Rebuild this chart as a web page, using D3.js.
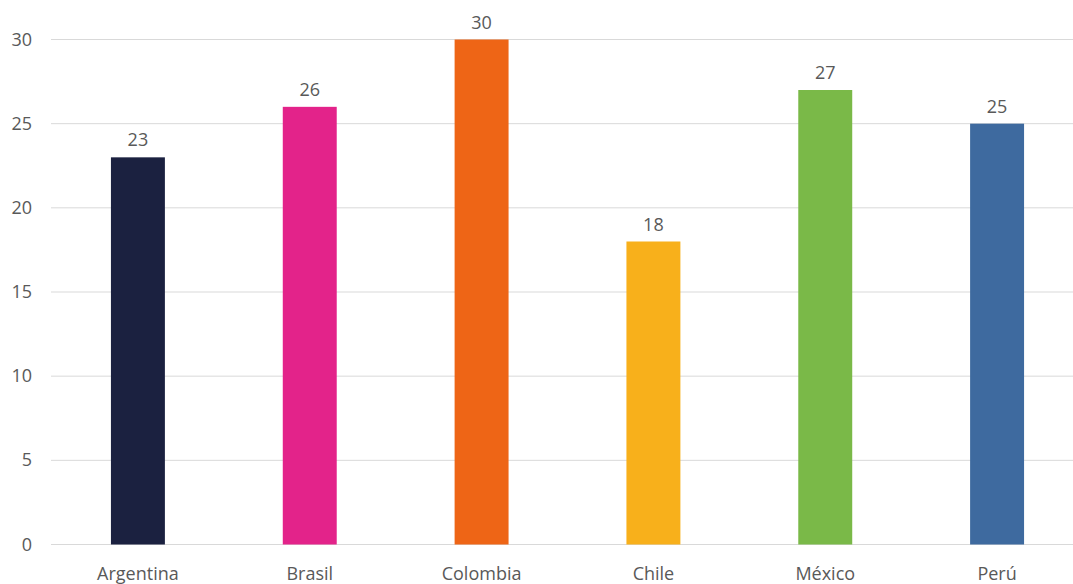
<!DOCTYPE html>
<html>
<head>
<meta charset="utf-8">
<script src="https://cdn.jsdelivr.net/npm/d3@7"></script>
<style>
  body { margin: 0; background: #fff; }
  svg { display: block; }
  text { font-family: "Open Sans", sans-serif; fill: #595959; }
</style>
</head>
<body>
<svg id="chart" width="1073" height="584"></svg>
<script>
const countries = ["Argentina", "Brasil", "Colombia", "Chile", "México", "Perú"]
const values = [23, 26, 30, 18, 27, 25]
const colors = ["#1b2140", "#e3238a", "#ee6516", "#f8b01b", "#7ab948", "#3e6a9f"]
const yTicks = [0, 5, 10, 15, 20, 25, 30]

const svg = d3.select("#chart")

// plot runs a little past the right edge, like the cropped original
const x = d3.scaleBand()
  .domain(countries)
  .range([52, 1083])
  .paddingInner(0.686)
  .paddingOuter(0.343)

const y = d3.scaleLinear()
  .domain([0, 30])
  .range([544.5, 39.5])

// gridlines
svg.append("g")
  .selectAll("line")
  .data(yTicks)
  .enter()
  .append("line")
  .attr("x1", 51)
  .attr("x2", 1083)
  .attr("y1", d => y(d))
  .attr("y2", d => y(d))
  .attr("stroke", "#d9d9d9")
  .attr("stroke-width", 1)

// y tick labels
svg.append("g")
  .selectAll("text")
  .data(yTicks)
  .enter()
  .append("text")
  .attr("x", 32)
  .attr("y", d => y(d) + 6)
  .attr("text-anchor", "end")
  .style("font-size", "18px")
  .text(d => d)

// bars
svg.append("g")
  .selectAll("rect")
  .data(countries)
  .enter()
  .append("rect")
  .attr("x", d => x(d))
  .attr("width", x.bandwidth())
  .attr("y", (d, i) => y(values[i]))
  .attr("height", (d, i) => y(0) - y(values[i]))
  .attr("fill", (d, i) => colors[i])

// value labels
svg.append("g")
  .selectAll("text")
  .data(countries)
  .enter()
  .append("text")
  .attr("x", d => x(d) + x.bandwidth() / 2)
  .attr("y", (d, i) => y(values[i]) - 11)
  .attr("text-anchor", "middle")
  .style("font-size", "18px")
  .text((d, i) => values[i])

// category labels
svg.append("g")
  .selectAll("text")
  .data(countries)
  .enter()
  .append("text")
  .attr("x", d => x(d) + x.bandwidth() / 2)
  .attr("y", 580)
  .attr("text-anchor", "middle")
  .style("font-size", "18px")
  .text(d => d)
</script>
</body>
</html>
